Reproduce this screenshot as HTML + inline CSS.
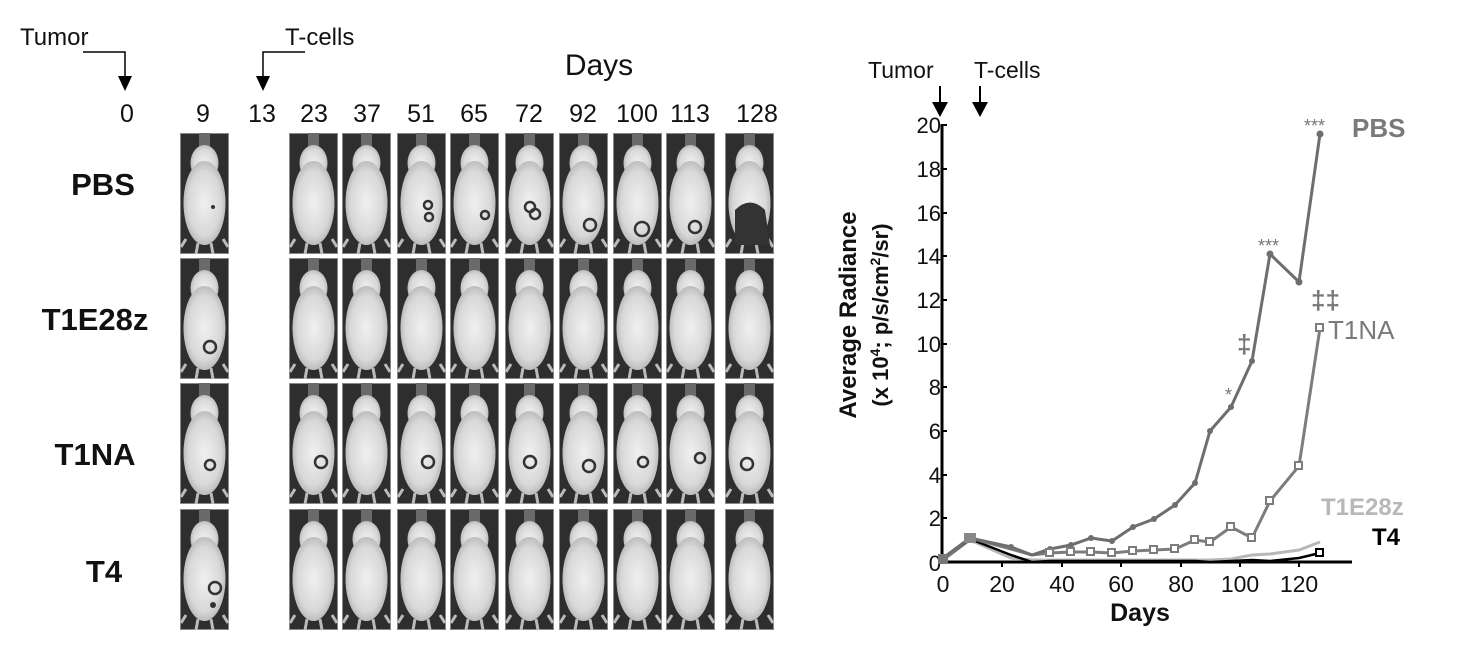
<!DOCTYPE html>
<html><head><meta charset="utf-8"><style>
html,body{margin:0;padding:0;background:#fff;}
svg{display:block;font-family:"Liberation Sans",Arial,sans-serif;}
</style></head><body>
<svg width="1468" height="650" viewBox="0 0 1468 650" xmlns="http://www.w3.org/2000/svg">
<defs>
<radialGradient id="mg" cx="50%" cy="50%" r="55%">
<stop offset="0" stop-color="#f0f0f0"/><stop offset="0.7" stop-color="#d8d8d8"/><stop offset="1" stop-color="#b0b0b0"/>
</radialGradient>
<symbol id="m" viewBox="0 0 49 121" width="49" height="121">
<rect x="0" y="0" width="49" height="121" fill="#2e2e2e"/>
<rect x="0.5" y="0.5" width="48" height="120" fill="none" stroke="#888" stroke-width="1"/>
<rect x="19" y="0" width="11" height="20" fill="#6a6a6a"/>
<ellipse cx="24.5" cy="30" rx="14" ry="18" fill="url(#mg)"/>
<ellipse cx="24.5" cy="70" rx="21" ry="42" fill="url(#mg)"/>
<path d="M6 106 L1 114 M43 106 L48 114 M18 110 L16 121 M31 110 L33 121" stroke="#bbb" stroke-width="3"/>
</symbol>
</defs>

<!-- left panel headers -->
<text x="20" y="45" font-size="24" fill="#111">Tumor</text>
<path d="M83 52 H125 V78" fill="none" stroke="#000" stroke-width="1.5"/>
<path d="M118 76 L132 76 L125 91 Z" fill="#000"/>
<text x="285" y="45" font-size="24" fill="#111">T-cells</text>
<path d="M305 52 H263 V78" fill="none" stroke="#000" stroke-width="1.5"/>
<path d="M256 76 L270 76 L263 91 Z" fill="#000"/>
<text x="599" y="75" font-size="30" fill="#111" text-anchor="middle">Days</text>
<g font-size="25" fill="#111" text-anchor="middle">
<text x="127" y="122">0</text><text x="203" y="122">9</text><text x="262" y="122">13</text>
<text x="314" y="122">23</text><text x="367" y="122">37</text><text x="421" y="122">51</text>
<text x="474" y="122">65</text><text x="529" y="122">72</text><text x="583" y="122">92</text>
<text x="637" y="122">100</text><text x="690" y="122">113</text><text x="757" y="122">128</text>
</g>
<g font-size="31" font-weight="bold" fill="#111" text-anchor="middle">
<text x="103" y="195">PBS</text><text x="95" y="330">T1E28z</text>
<text x="95" y="465">T1NA</text><text x="104" y="582">T4</text>
</g>

<!-- photos -->
<g>
<use href="#m" x="180" y="133"/><use href="#m" x="289" y="133"/><use href="#m" x="342" y="133"/><use href="#m" x="397" y="133"/><use href="#m" x="450" y="133"/><use href="#m" x="505" y="133"/><use href="#m" x="559" y="133"/><use href="#m" x="613" y="133"/><use href="#m" x="666" y="133"/><use href="#m" x="725" y="133"/>
<use href="#m" x="180" y="258"/><use href="#m" x="289" y="258"/><use href="#m" x="342" y="258"/><use href="#m" x="397" y="258"/><use href="#m" x="450" y="258"/><use href="#m" x="505" y="258"/><use href="#m" x="559" y="258"/><use href="#m" x="613" y="258"/><use href="#m" x="666" y="258"/><use href="#m" x="725" y="258"/>
<use href="#m" x="180" y="383"/><use href="#m" x="289" y="383"/><use href="#m" x="342" y="383"/><use href="#m" x="397" y="383"/><use href="#m" x="450" y="383"/><use href="#m" x="505" y="383"/><use href="#m" x="559" y="383"/><use href="#m" x="613" y="383"/><use href="#m" x="666" y="383"/><use href="#m" x="725" y="383"/>
<use href="#m" x="180" y="509"/><use href="#m" x="289" y="509"/><use href="#m" x="342" y="509"/><use href="#m" x="397" y="509"/><use href="#m" x="450" y="509"/><use href="#m" x="505" y="509"/><use href="#m" x="559" y="509"/><use href="#m" x="613" y="509"/><use href="#m" x="666" y="509"/><use href="#m" x="725" y="509"/>
</g>
<!-- tumor marks -->
<g fill="none" stroke="#333" stroke-width="2.5">
<circle cx="428" cy="205" r="4"/><circle cx="429" cy="217" r="4"/>
<circle cx="485" cy="215" r="4"/>
<circle cx="530" cy="207" r="5"/><circle cx="535" cy="214" r="5"/>
<circle cx="590" cy="225" r="6"/><circle cx="642" cy="229" r="7"/><circle cx="695" cy="227" r="6"/>
<circle cx="210" cy="347" r="6"/>
<circle cx="210" cy="465" r="5"/><circle cx="321" cy="462" r="6"/><circle cx="428" cy="462" r="6"/><circle cx="530" cy="462" r="6"/><circle cx="589" cy="466" r="6"/><circle cx="643" cy="462" r="5"/><circle cx="700" cy="458" r="5"/><circle cx="747" cy="464" r="6"/>
<circle cx="215" cy="588" r="6"/>
</g>
<path d="M735 210 Q750 195 765 210 L770 245 L735 245 Z" fill="#333"/>
<circle cx="213" cy="605" r="3" fill="#333"/><circle cx="213" cy="207" r="2" fill="#333"/>

<!-- chart -->
<text x="868" y="78" font-size="23" fill="#111">Tumor</text>
<text x="974" y="78" font-size="23" fill="#111">T-cells</text>
<line x1="940" y1="86" x2="940" y2="104" stroke="#000" stroke-width="2"/>
<path d="M932 102 L948 102 L940 117 Z" fill="#000"/>
<line x1="980" y1="86" x2="980" y2="104" stroke="#000" stroke-width="2"/>
<path d="M972 102 L988 102 L980 117 Z" fill="#000"/>

<g transform="translate(856 315) rotate(-90)"><text x="0" y="0" font-size="24" font-weight="bold" text-anchor="middle" fill="#111">Average Radiance</text></g>
<g transform="translate(888 315) rotate(-90)"><text x="0" y="0" font-size="22" font-weight="bold" text-anchor="middle" fill="#111">(x 10<tspan font-size="14" dy="-8">4</tspan><tspan dy="8">; p/s/cm</tspan><tspan font-size="14" dy="-8">2</tspan><tspan dy="8">/sr)</tspan></text></g>

<line x1="942" y1="124" x2="942" y2="563" stroke="#000" stroke-width="3"/>
<line x1="941" y1="562" x2="1352" y2="562" stroke="#000" stroke-width="3"/>
<g stroke="#000" stroke-width="2">
<line x1="942" y1="125" x2="947" y2="125"/><line x1="942" y1="169" x2="947" y2="169"/><line x1="942" y1="213" x2="947" y2="213"/><line x1="942" y1="256" x2="947" y2="256"/><line x1="942" y1="300" x2="947" y2="300"/><line x1="942" y1="344" x2="947" y2="344"/><line x1="942" y1="387" x2="947" y2="387"/><line x1="942" y1="431" x2="947" y2="431"/><line x1="942" y1="475" x2="947" y2="475"/><line x1="942" y1="518" x2="947" y2="518"/>
<line x1="1002" y1="562" x2="1002" y2="567"/><line x1="1062" y1="562" x2="1062" y2="567"/><line x1="1121" y1="562" x2="1121" y2="567"/><line x1="1181" y1="562" x2="1181" y2="567"/><line x1="1240" y1="562" x2="1240" y2="567"/><line x1="1299" y1="562" x2="1299" y2="567"/>
</g>
<g font-size="22" fill="#111" text-anchor="end">
<text x="941" y="133">20</text><text x="941" y="177">18</text><text x="941" y="221">16</text><text x="941" y="264">14</text><text x="941" y="308">12</text><text x="941" y="352">10</text><text x="941" y="395">8</text><text x="941" y="439">6</text><text x="941" y="483">4</text><text x="941" y="526">2</text><text x="941" y="571">0</text>
</g>
<g font-size="23" fill="#111" text-anchor="middle">
<text x="943" y="592">0</text><text x="1002" y="592">20</text><text x="1062" y="592">40</text><text x="1121" y="592">60</text><text x="1181" y="592">80</text><text x="1240" y="592">100</text><text x="1299" y="592">120</text>
</g>
<text x="1140" y="621" font-size="25" font-weight="bold" text-anchor="middle" fill="#111">Days</text>

<polyline fill="none" stroke="#b8b8b8" stroke-width="3" points="943,560 970,540 1011,558 1032,560 1050,560 1071,560 1091,560 1112,560 1133,560 1154,560 1175,560 1195,560 1210,560 1231,559 1252,555 1270,554 1299,550 1320,542"/>
<polyline fill="none" stroke="#000" stroke-width="2.5" points="943,560 970,539 1011,555 1032,562 1050,561 1071,561 1091,561 1112,561 1133,561 1154,561 1175,561 1195,561 1210,562 1231,561 1252,560 1270,561 1299,558 1320,553"/>
<polyline fill="none" stroke="#7d7d7d" stroke-width="3" points="943,560 970,538 1011,549 1032,555 1050,553 1071,552 1091,552 1112,553 1133,551 1154,550 1175,549 1195,540 1210,542 1231,527 1252,538 1270,501 1299,466 1320,328"/>
<polyline fill="none" stroke="#6e6e6e" stroke-width="3" points="943,558 970,538 1011,547 1032,555 1050,549 1071,545 1091,538 1112,541 1133,527 1154,519 1175,505 1195,483 1210,431 1231,407 1252,361 1270,254 1299,282 1320,134"/>
<g fill="#6e6e6e">
<circle cx="970" cy="538" r="3"/><circle cx="1011" cy="547" r="3"/><circle cx="1050" cy="549" r="3"/><circle cx="1071" cy="545" r="3"/><circle cx="1091" cy="538" r="3"/><circle cx="1112" cy="541" r="3"/><circle cx="1133" cy="527" r="3"/><circle cx="1154" cy="519" r="3"/><circle cx="1175" cy="505" r="3"/><circle cx="1195" cy="483" r="3"/><circle cx="1210" cy="431" r="3"/><circle cx="1231" cy="407" r="3"/><circle cx="1252" cy="361" r="3"/><circle cx="1270" cy="254" r="3.5"/><circle cx="1299" cy="282" r="3.5"/><circle cx="1320" cy="134" r="3.5"/>
</g>
<g fill="#fff" stroke="#7d7d7d" stroke-width="2">
<rect x="1046" y="549" width="7" height="7"/><rect x="1067" y="548" width="7" height="7"/><rect x="1087" y="548" width="7" height="7"/><rect x="1108" y="549" width="7" height="7"/><rect x="1129" y="547" width="7" height="7"/><rect x="1150" y="546" width="7" height="7"/><rect x="1171" y="545" width="7" height="7"/><rect x="1191" y="536" width="7" height="7"/><rect x="1206" y="538" width="7" height="7"/><rect x="1227" y="523" width="7" height="7"/><rect x="1248" y="534" width="7" height="7"/><rect x="1266" y="497" width="7" height="7"/><rect x="1295" y="462" width="7" height="7"/><rect x="1316" y="324" width="7" height="7"/>
</g>
<rect x="1316" y="549" width="7" height="7" fill="#fff" stroke="#000" stroke-width="2"/>
<rect x="938" y="554" width="10" height="10" fill="#777"/>
<rect x="964" y="533" width="12" height="10" fill="#888"/>

<g fill="#777" font-size="18">
<text x="1304" y="132">***</text><text x="1258" y="252">***</text><text x="1225" y="401">*</text>
</g>
<g fill="#777" font-size="26" font-weight="bold">
<text x="1237" y="353">‡</text><text x="1311" y="309">‡‡</text>
</g>
<text x="1352" y="137" font-size="26" font-weight="bold" fill="#7a7a7a">PBS</text>
<text x="1328" y="339" font-size="26" fill="#7a7a7a">T1NA</text>
<text x="1321" y="515" font-size="24" font-weight="bold" fill="#b8b8b8">T1E28z</text>
<text x="1372" y="545" font-size="24" font-weight="bold" fill="#000">T4</text>
</svg>
</body></html>
